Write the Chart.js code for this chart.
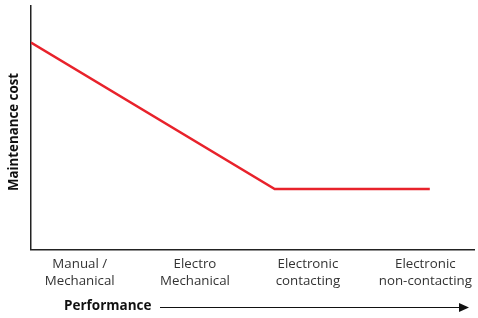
<!DOCTYPE html>
<html>
<head>
<meta charset="utf-8">
<script src="https://cdn.jsdelivr.net/npm/chart.js@4"></script>
<style>
  html, body { margin: 0; padding: 0; background: #fff; }
  #box { width: 478px; height: 318px; }
</style>
</head>
<body>
<div id="box"><canvas id="chart"></canvas></div>
<script>
// categories along the performance axis and where they sit on it (0-100)
const categories = [['Manual /', 'Mechanical'], ['Electro', 'Mechanical'], ['Electronic', 'contacting'], ['Electronic', 'non-contacting']];
const categoryPos = [11, 37, 62.5, 89];
// the maintenance cost curve (schematic, 0-100)
const costX = [0, 55, 90];
const costY = [85, 25, 25];

const titlesPlugin = {
    id: 'titles',
    afterDraw(chart) {
        const ctx = chart.ctx;
        const area = chart.chartArea;
        ctx.save();
        ctx.fillStyle = '#111';
        ctx.font = 'bold 13.3px "Open Sans", sans-serif';
        // y title, rotated
        ctx.translate(14, (area.top + area.bottom) / 2 + 4);
        ctx.rotate(-Math.PI / 2);
        ctx.textAlign = 'center';
        ctx.textBaseline = 'middle';
        ctx.fillText('Maintenance cost', 0, 0);
        ctx.restore();

        ctx.save();
        ctx.fillStyle = '#111';
        ctx.font = 'bold 13.5px "Open Sans", sans-serif';
        ctx.textAlign = 'left';
        ctx.textBaseline = 'middle';
        ctx.fillText('Performance', 64, 306);
        // arrow
        ctx.strokeStyle = '#111';
        ctx.lineWidth = 1;
        ctx.beginPath();
        ctx.moveTo(160, 307.5);
        ctx.lineTo(462, 307.5);
        ctx.stroke();
        ctx.beginPath();
        ctx.moveTo(469, 307.5);
        ctx.lineTo(459, 303);
        ctx.lineTo(459, 312);
        ctx.closePath();
        ctx.fill();
        ctx.restore();
    }
};

new Chart(document.getElementById('chart'), {
    type: 'line',
    data: {
        datasets: [{
            data: costX.map((x, i) => ({ x: x, y: costY[i] })),
            borderColor: '#e8222b',
            borderWidth: 2.5,
            pointRadius: 0,
            tension: 0
        }]
    },
    options: {
        responsive: true,
        maintainAspectRatio: false,
        animation: false,
        layout: { padding: { left: 31, right: 1, top: 6, bottom: 22 } },
        plugins: { legend: { display: false }, tooltip: { enabled: false } },
        scales: {
            x: {
                type: 'linear',
                min: 0,
                max: 100,
                afterBuildTicks: axis => {
                    axis.ticks = categoryPos.map(v => ({ value: v }));
                },
                ticks: {
                    autoSkip: false,
                    maxRotation: 0,
                    padding: 6,
                    color: '#333',
                    font: { family: '"Open Sans", sans-serif', size: 13.3, lineHeight: 1.28 },
                    callback: (value) => categories[categoryPos.indexOf(value)]
                },
                grid: { display: false, drawTicks: false },
                border: { display: true, color: '#222', width: 1.5 }
            },
            y: {
                min: 0,
                max: 100,
                ticks: { display: false },
                grid: { display: false, drawTicks: false },
                border: { display: true, color: '#222', width: 1.5 }
            }
        }
    },
    plugins: [titlesPlugin]
});
</script>
</body>
</html>
